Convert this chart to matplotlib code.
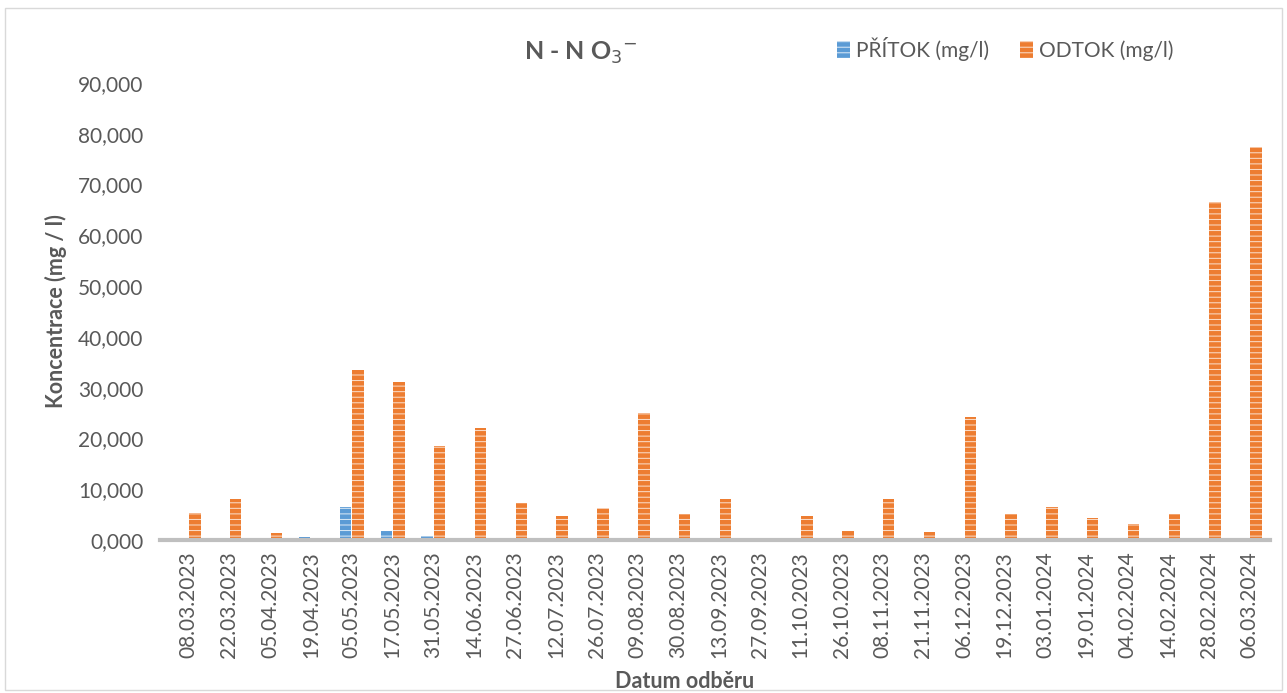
import numpy as np
import matplotlib
matplotlib.use("Agg")
import matplotlib.pyplot as plt
from matplotlib.ticker import FuncFormatter

plt.rcParams['font.family'] = ['Lato', 'DejaVu Sans']
plt.rcParams['hatch.linewidth'] = 0.7

dates = ["08.03.2023", "22.03.2023", "05.04.2023", "19.04.2023", "05.05.2023",
         "17.05.2023", "31.05.2023", "14.06.2023", "27.06.2023", "12.07.2023",
         "26.07.2023", "09.08.2023", "30.08.2023", "13.09.2023", "27.09.2023",
         "11.10.2023", "26.10.2023", "08.11.2023", "21.11.2023", "06.12.2023",
         "19.12.2023", "03.01.2024", "19.01.2024", "04.02.2024", "14.02.2024",
         "28.02.2024", "06.03.2024"]
pritok = [0, 0, 0.2, 0.5, 6.5, 1.8, 0.7, 0, 0, 0, 0, 0, 0, 0, 0,
          0, 0, 0, 0, 0, 0, 0, 0, 0, 0, 0, 0]
odtok = [5.3, 8.1, 1.4, 0, 33.5, 31.1, 18.5, 22.1, 7.3, 4.7, 6.3, 25.0, 5.1, 8.1, 0.4,
         4.7, 1.8, 8.1, 1.6, 24.2, 5.1, 6.5, 4.3, 3.2, 5.1, 66.6, 77.4]

blue = "#5B9BD5"
orange = "#ED7D31"
grey = "#595959"

fig = plt.figure(figsize=(12.87, 6.93), dpi=100)
ax = fig.add_axes([160/1287, 1 - 540/693, 1110/1287, 457/693])

x = np.arange(len(dates))
w = 0.28
ax.bar(x - 0.155, pritok, w, color=blue, edgecolor="#DDEBF7", linewidth=0, hatch="---",
       label="PŘÍTOK (mg/l)")
ax.bar(x + 0.155, odtok, w, color=orange, edgecolor="#FBE0CF", linewidth=0, hatch="---",
       label="ODTOK (mg/l)")

ax.set_ylim(0, 90)
ax.set_xlim(-0.7, 26.5)
ax.set_yticks(np.arange(0, 91, 10))
ax.yaxis.set_major_formatter(FuncFormatter(lambda v, p: f"{v:.3f}".replace(".", ",")))
ax.set_xticks(x)
ax.set_xticklabels(dates, rotation=90)
ax.tick_params(axis="both", length=0, labelsize=15, colors=grey, pad=8)
ax.tick_params(axis="y", pad=12)

for s in ["top", "right", "left"]:
    ax.spines[s].set_visible(False)
ax.spines["bottom"].set_color("#BFBFBF")
ax.spines["bottom"].set_linewidth(3)

ax.set_ylabel("Koncentrace (mg / l)", fontsize=15.5, fontweight="bold", color=grey, labelpad=8)
fig.text(685 / 1287, 0.001, "Datum odběru",
         fontsize=15.5, fontweight="bold", color=grey, ha="center", va="bottom")

fig.text(0.451, 0.905, r"N - N O$_3$$^{-}$", fontsize=18, fontweight="bold", color=grey,
         ha="center", va="bottom")

leg = fig.legend(loc="center left", bbox_to_anchor=(0.636, 0.93), ncol=2, frameon=False,
                 fontsize=15, handlelength=0.6, handleheight=0.9, handletextpad=0.3,
                 columnspacing=1.5, labelcolor=grey)

fig.patches.append(plt.Rectangle((0.004, 0.004), 0.992, 0.985, transform=fig.transFigure,
                                 fill=False, edgecolor="#D9D9D9", linewidth=1))

fig.savefig("out.png", dpi=100)
